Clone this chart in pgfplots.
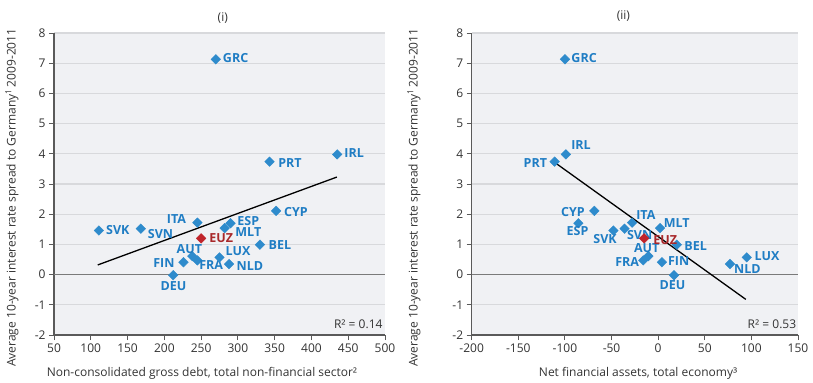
\documentclass[border=0pt]{standalone}
\usepackage{fontspec}
\setmainfont{Open Sans}
\usepackage{pgfplots}
\usepackage{pgfplotstable}
\pgfplotsset{compat=1.18}

\definecolor{ptblue}{HTML}{2E8BCC}
\definecolor{lblblue}{HTML}{1F7DC4}
\definecolor{euzred}{HTML}{C0242B}
\definecolor{euztext}{HTML}{A8282A}
\definecolor{bgcol}{HTML}{F0F1F4}
\definecolor{gridcol}{HTML}{D8D9DC}
\definecolor{axiscol}{HTML}{5A5A5A}
\definecolor{zerocol}{HTML}{7A7A7A}
\definecolor{txtcol}{HTML}{333333}

\newcommand{\lblfont}{\fontsize{12.5bp}{14bp}\selectfont\bfseries}
\newcommand{\txtfont}{\fontsize{12bp}{14bp}\selectfont}

% Panel (i): gross debt vs. spread; dx/dy place each country code
\pgfplotstableread{
name x   y     dx    dy
GRC  270 7.13  19.8  1.7
PRT  343 3.74  20.4 -1.6
IRL  435 3.98  17.0  1.7
CYP  352 2.11  19.8 -0.7
ESP  290 1.70  17.7  2.0
MLT  282 1.54  23.7 -4.0
ITA  245 1.72 -21.0  4.0
SVK  111 1.46  19.0  0.0
SVN  168 1.52  19.7 -5.0
BEL  330 0.99  20.0 -0.7
AUT  238 0.61  -2.9  7.0
FRA  245 0.47  13.8 -4.3
LUX  275 0.57  18.5  6.0
NLD  288 0.35  20.8 -2.3
FIN  226 0.41 -19.5 -0.7
DEU  212 -0.02 0.4 -10.7
}\debttab
\pgfplotstableread{
name x   y    dx   dy
EUZ  250 1.20 20.2 0.0
}\debteuz
\pgfplotstableread{
x     y
109.5 0.32
434.6 3.23
}\debtfit

% Panel (ii): net financial assets vs. spread
\pgfplotstableread{
name x     y     dx    dy
GRC  -100  7.13  19.2  1.7
IRL  -99   3.98  15.2  9.0
PRT  -111  3.74 -19.3 -1.7
CYP  -68.5 2.11 -21.3 -0.7
ESP  -85.6 1.70  -0.8 -8.0
SVK  -48   1.46  -8.3 -9.0
SVN  -36   1.52  15.0 -6.0
ITA  -28   1.72  13.8  8.0
MLT  2     1.54  16.7  4.7
BEL  20    0.99  18.8 -1.0
AUT  -10.5 0.61  -1.6  8.3
FRA  -16   0.47 -16.1 -1.7
FIN  4     0.41  16.8  1.0
DEU  17    -0.02 -1.6 -9.7
NLD  77    0.35  17.5 -4.7
LUX  95    0.57  20.3  1.7
}\nfatab
\pgfplotstableread{
name x   y    dx   dy
EUZ  -15 1.20 21.0 -1.6
}\nfaeuz
\pgfplotstableread{
x      y
-111.7 3.73
94     -0.82
}\nfafit

\pgfplotsset{
  panel/.style={
    scale only axis, height=302bp,
    ymin=-2, ymax=8, ytick={-2,-1,...,8},
    axis x line*=bottom, axis y line*=left,
    axis line style={-, axiscol, line width=1.4bp},
    axis background/.style={fill=bgcol},
    ymajorgrids, grid style={gridcol, line width=1.2bp},
    tick align=outside, major tick length=5bp,
    tick style={axiscol, line width=0.9bp},
    tick label style={font=\txtfont, text=txtcol},
    /pgf/number format/assume math mode=true,
    label style={font=\txtfont, text=txtcol},
    title style={font=\txtfont, text=txtcol},
    clip=false,
  },
  pts/.style={
    only marks, mark=square*, mark size=3.4bp,
    mark options={rotate=45, draw=#1, fill=#1},
    point meta=explicit symbolic,
    visualization depends on={\thisrow{dx} \as \ldx},
    visualization depends on={\thisrow{dy} \as \ldy},
    nodes near coords,
    nodes near coords style={anchor=center, xshift=\ldx bp, yshift=\ldy bp,
      font=\lblfont, inner sep=0pt},
  },
  fit/.style={black, line width=1.3bp, no marks},
}

\begin{document}
\begin{tikzpicture}
\useasboundingbox (0,0) rectangle (813bp,383bp);

\begin{axis}[panel,
  at={(54bp,48bp)}, anchor=south west, width=331bp,
  xmin=50, xmax=500, xtick={50,100,...,500},
  title={(i)},
  title style={at={(axis description cs:0.51,1.03)}, anchor=center, yshift=0pt},
  xlabel={Non-consolidated gross debt, total non-financial sector²},
  xlabel style={at={(axis description cs:0.447,-0.126)}, anchor=center},
  ylabel={Average 10-year interest rate spread to Germany\textsuperscript{1}\,2009-2011},
  ylabel style={at={(axis description cs:-0.127,0.455)}, anchor=center},
]
\draw[zerocol, line width=1.2bp] (axis cs:50,0) -- (axis cs:500,0);
\addplot[fit] table[x=x, y=y] {\debtfit};
\addplot[pts=ptblue, nodes near coords style={text=lblblue}]
  table[x=x, y=y, meta=name] {\debttab};
\addplot[pts=euzred, nodes near coords style={text=euztext}]
  table[x=x, y=y, meta=name] {\debteuz};
\node[anchor=south east, font=\txtfont, text=txtcol, inner sep=0pt]
  at (rel axis cs:0.993,0.02) {R² = 0.14};
\end{axis}

\begin{axis}[panel,
  at={(471.7bp,48bp)}, anchor=south west, width=326.3bp,
  xmin=-200, xmax=150, xtick={-200,-150,...,150},
  title={(ii)},
  title style={at={(axis description cs:0.465,1.035)}, anchor=center, yshift=0pt},
  xlabel={Net financial assets, total economy³},
  xlabel style={at={(axis description cs:0.51,-0.126)}, anchor=center},
  ylabel={Average 10-year interest rate spread to Germany\textsuperscript{1}\,2009-2011},
  ylabel style={at={(axis description cs:-0.177,0.455)}, anchor=center},
]
\draw[zerocol, line width=1.2bp] (axis cs:-200,0) -- (axis cs:150,0);
\addplot[fit] table[x=x, y=y] {\nfafit};
\addplot[pts=ptblue, nodes near coords style={text=lblblue}]
  table[x=x, y=y, meta=name] {\nfatab};
\addplot[pts=euzred, nodes near coords style={text=euztext}]
  table[x=x, y=y, meta=name] {\nfaeuz};
\node[anchor=south east, font=\txtfont, text=txtcol, inner sep=0pt]
  at (rel axis cs:0.995,0.02) {R² = 0.53};
\end{axis}
\end{tikzpicture}
\end{document}
